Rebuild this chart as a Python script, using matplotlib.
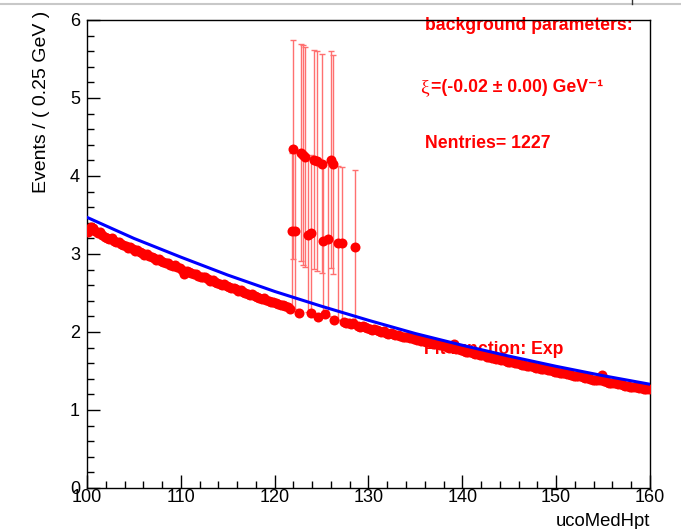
"""
Background fit plot: ucoMedHpt spectrum with exponential fit
"""

import numpy as np
import matplotlib
matplotlib.use('Agg')
import matplotlib.pyplot as plt
from matplotlib.lines import Line2D
from matplotlib.ticker import MultipleLocator

# Binned data, 0.25 GeV bins from 100 to 160 (one row per GeV)
bin_lo = 100.0
bin_width = 0.25
band_y = [
    3.28, 3.35, 3.33, 3.30,
    3.27, 3.28, 3.24, 3.22,
    3.21, 3.19, 3.20, 3.17,
    3.15, 3.16, 3.13, 3.11,
    3.10, 3.08, 3.09, 3.06,
    3.04, 3.05, 3.02, 3.01,
    2.99, 3.00, 2.97, 2.96,
    2.95, 2.92, 2.94, 2.91,
    2.90, 2.88, 2.89, 2.86,
    2.85, 2.86, 2.83, 2.82,
    2.80, 2.74, 2.78, 2.77,
    2.76, 2.74, 2.75, 2.72,
    2.71, 2.70, 2.71, 2.68,
    2.66, 2.67, 2.64, 2.63,
    2.62, 2.60, 2.61, 2.59,
    2.58, 2.56, 2.57, 2.55,
    2.53, 2.54, 2.51, 2.50,
    2.49, 2.48, 2.49, 2.46,
    2.45, 2.44, 2.42, 2.43,
    2.41, 2.40, 2.39, 2.38,
    2.37, 2.36, 2.35, 2.34,
    2.33, 2.32, 2.30, None,
    None, None, 2.25, None,
    None, None, None, 2.25,
    None, None, 2.19, None,
    None, 2.23, None, None,
    None, 2.16, None, None,
    None, 2.13, 2.12, 2.11,
    2.10, 2.11, None, 2.08,
    2.07, 2.08, 2.06, 2.05,
    2.04, 2.03, 2.04, 2.02,
    2.01, 2.00, 2.01, 1.99,
    1.98, 1.99, 1.97, 1.96,
    1.96, 1.95, 1.94, 1.94,
    1.93, 1.92, 1.93, 1.91,
    1.90, 1.91, 1.89, 1.88,
    1.87, 1.88, 1.86, 1.85,
    1.85, 1.84, 1.83, 1.83,
    1.82, 1.81, 1.80, 1.80,
    1.84, 1.78, 1.78, 1.77,
    1.76, 1.75, 1.74, 1.74,
    1.73, 1.72, 1.72, 1.71,
    1.70, 1.70, 1.68, 1.68,
    1.67, 1.67, 1.66, 1.65,
    1.64, 1.65, 1.63, 1.62,
    1.62, 1.61, 1.60, 1.60,
    1.59, 1.58, 1.58, 1.57,
    1.56, 1.56, 1.55, 1.54,
    1.54, 1.53, 1.53, 1.52,
    1.51, 1.51, 1.50, 1.49,
    1.49, 1.48, 1.48, 1.47,
    1.46, 1.46, 1.45, 1.44,
    1.44, 1.43, 1.43, 1.42,
    1.41, 1.41, 1.40, 1.39,
    1.39, 1.38, 1.38, 1.45,
    1.37, 1.36, 1.35, 1.35,
    1.34, 1.34, 1.33, 1.33,
    1.32, 1.31, 1.31, 1.30,
    1.30, 1.29, 1.29, 1.28,
    1.28, 1.27, 1.27, 1.27,
]

# High points with large error bars around 122-129 GeV
spike_hi_x = [121.99, 122.77, 122.99, 123.23, 124.22, 124.48, 125.01, 125.97, 126.25]
spike_hi_y = [4.34, 4.30, 4.27, 4.24, 4.21, 4.19, 4.16, 4.21, 4.15]
spike_hi_err = [1.40, 1.39, 1.41, 1.41, 1.40, 1.41, 1.40, 1.39, 1.40]

spike_lo_x = [121.85, 122.20, 123.57, 123.82, 125.17, 125.70, 126.76, 127.22, 128.60]
spike_lo_y = [3.29, 3.29, 3.25, 3.27, 3.17, 3.19, 3.14, 3.14, 3.09]
spike_lo_err = [1.00, 1.00, 0.99, 1.00, 0.98, 0.99, 0.99, 0.98, 0.99]

# Exponential fit curve, read at 5 GeV steps
fit_x = [100, 105, 110, 115, 120, 125, 130, 135, 140, 145, 150, 155, 160]
fit_y = [3.47, 3.20, 2.96, 2.73, 2.52, 2.33, 2.15, 1.98, 1.83, 1.69, 1.56, 1.44, 1.33]

W, H = 681, 529


def px_x(p):
    return p / W


def px_y(p):
    return 1 - p / H


def make_plot():
    plt.rcParams['font.family'] = ['Liberation Sans', 'DejaVu Sans']

    fig = plt.figure(figsize=(W / 100, H / 100), dpi=100)
    ax = fig.add_axes([px_x(87), px_y(488), (650 - 87) / W, (488 - 20) / H])

    red = '#ff0000'
    bar_col = '#ff7070'

    # text boxes sit under the data, like the ROOT pave
    ax.text(px_x(425), px_y(26), 'background parameters:', transform=fig.transFigure,
            color=red, fontsize=12.7, fontweight='bold', va='center', zorder=1)
    ax.text(px_x(420), px_y(88), '\u03be', transform=fig.transFigure,
            color=red, fontsize=14, family='Liberation Serif', va='center', zorder=1)
    ax.text(px_x(431), px_y(87), '=(-0.02 \u00b1 0.00) GeV\u207b\u00b9', transform=fig.transFigure,
            color=red, fontsize=12.7, fontweight='bold', va='center', zorder=1)
    ax.text(px_x(425), px_y(143), 'Nentries= 1227', transform=fig.transFigure,
            color=red, fontsize=12.7, fontweight='bold', va='center', zorder=1)
    ax.text(px_x(424), px_y(349), 'Fit function: Exp', transform=fig.transFigure,
            color=red, fontsize=12.7, fontweight='bold', va='center', zorder=1)

    # main band of points
    band_x = bin_lo + bin_width * (np.arange(len(band_y)) + 0.5)
    band_vals = np.array([np.nan if v is None else v for v in band_y])
    ax.plot(band_x, band_vals, 'o', color=red, markersize=7.2, markeredgewidth=0, zorder=3)

    # spike points with error bars
    for xs, ys, es in [(spike_hi_x, spike_hi_y, spike_hi_err),
                       (spike_lo_x, spike_lo_y, spike_lo_err)]:
        ax.errorbar(xs, ys, yerr=es, fmt='none', ecolor=bar_col, elinewidth=1,
                    capsize=2, capthick=1, zorder=2)
        ax.plot(xs, ys, 'o', color=red, markersize=7.2, markeredgewidth=0, zorder=3)

    # fit curve
    ax.plot(fit_x, fit_y, '-', color='#0000ff', linewidth=2.2, zorder=4)

    ax.set_xlim(100, 160)
    ax.set_ylim(0, 6)
    ax.xaxis.set_major_locator(MultipleLocator(10))
    ax.xaxis.set_minor_locator(MultipleLocator(2))
    ax.yaxis.set_major_locator(MultipleLocator(1))
    ax.yaxis.set_minor_locator(MultipleLocator(0.2))
    ax.tick_params(which='both', direction='in', top=False, right=False,
                   width=1, labelsize=13, color='black')
    ax.tick_params(which='major', length=9.5)
    ax.tick_params(which='minor', length=5)
    ax.tick_params(axis='x', pad=1)
    ax.tick_params(axis='y', pad=5)
    for s in ax.spines.values():
        s.set_linewidth(1)

    fig.text(px_x(42), px_y(11), 'Events / ( 0.25 GeV )', rotation=90,
             ha='center', va='top', fontsize=14)
    fig.text(px_x(650), px_y(522), 'ucoMedHpt', ha='right', va='center', fontsize=13.3)

    # canvas edge line at the top
    fig.add_artist(Line2D([0, 1], [px_y(4), px_y(4)], color='#c8c8c8', linewidth=1.5))
    fig.add_artist(Line2D([px_x(632), px_x(632)], [px_y(0), px_y(4)], color='#333333', linewidth=1))

    fig.savefig('out.png', dpi=100)


if __name__ == "__main__":
    make_plot()
